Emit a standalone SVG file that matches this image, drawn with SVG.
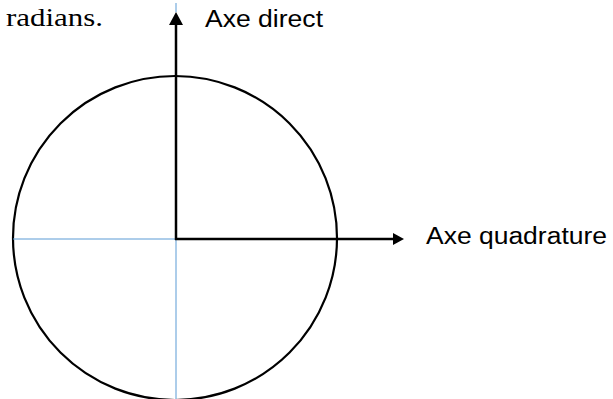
<svg xmlns="http://www.w3.org/2000/svg" width="613" height="399" viewBox="0 0 613 399">
<style>
.axis{stroke:#000;stroke-width:2.5;fill:none}
.thin{stroke:#5B9BD5;stroke-width:1;fill:none}
.lbl{font-family:"Liberation Sans",Arial,sans-serif;font-size:23px;fill:#000}
</style>
<rect width="613" height="399" fill="#fff"/>
<text x="6" y="26" font-family="'Liberation Serif',serif" font-size="26" textLength="97" lengthAdjust="spacingAndGlyphs">radians.</text>
<g id="circle"><ellipse cx="175" cy="238" rx="162" ry="162" fill="none" stroke="#000" stroke-width="2.2"/></g>
<g id="guides">
<line class="thin" x1="13" y1="239" x2="176" y2="239"/>
<line class="thin" x1="176" y1="239" x2="176" y2="399"/>
<line class="thin" x1="176" y1="3" x2="176" y2="12"/>
</g>
<g id="connectors">
<line class="axis" x1="176" y1="240" x2="176" y2="25"/>
<path d="M176,12 L169,25 L183,25 Z" fill="#000"/>
<line class="axis" x1="175" y1="239" x2="393" y2="239"/>
<path d="M404,239 L393,233 L393,245 Z" fill="#000"/>
</g>
<g id="direct"><text class="lbl" x="205" y="27" textLength="118" lengthAdjust="spacingAndGlyphs">Axe direct</text></g>
<g id="quadrature"><text class="lbl" x="426" y="244" textLength="181" lengthAdjust="spacingAndGlyphs">Axe quadrature</text></g>
</svg>
